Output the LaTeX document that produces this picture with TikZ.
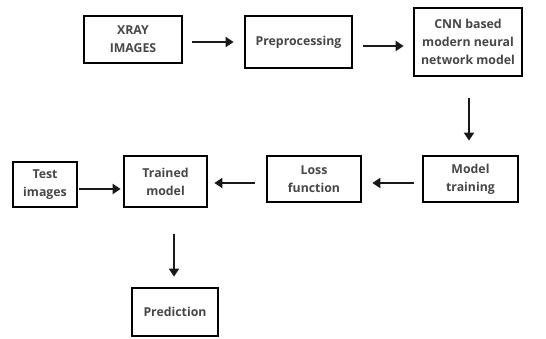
\documentclass[tikz,border=0pt]{standalone}
\usepackage{fontspec}
\setmainfont{Open Sans}
\usetikzlibrary{arrows.meta}
\begin{document}
\begin{tikzpicture}[x=1pt,y=-1pt,
  box/.style={draw=black, line width=2.8pt, fill=white, align=center,
    font=\bfseries\fontsize{12.3}{18}\selectfont, text=black!72, inner sep=0pt},
  arr/.style={line width=2.4pt, -{Triangle[length=8pt,width=10pt]}, black!90}]
\useasboundingbox (0,0) rectangle (546,338);
\node[box, minimum width=98pt, minimum height=47pt] (xray) at (133,39.5) {XRAY\\IMAGES};
\node[box, minimum width=107pt, minimum height=52pt] (pre) at (298.5,42) {Preprocessing};
\node[box, minimum width=108pt, minimum height=68pt] (cnn) at (468,42) {CNN based\\modern neural\\network model};
\node[box, minimum width=95pt, minimum height=46pt] (train) at (470.5,179) {Model\\training};
\node[box, minimum width=94pt, minimum height=46pt] (loss) at (314,179) {Loss\\function};
\node[box, minimum width=83pt, minimum height=51pt] (trained) at (165.5,181.5) {Trained\\model};
\node[box, minimum width=64pt, minimum height=45pt] (test) at (45,184.5) {Test\\images};
\node[box, minimum width=86pt, minimum height=48pt] (pred) at (175,312) {Prediction};
\draw[arr, shorten <=9pt, shorten >=10pt] (xray.east |- pre.west) -- (pre.west);
\draw[arr, shorten <=10pt, shorten >=9pt] ([yshift=-4pt]pre.east) -- ([yshift=-4pt]pre.east -| cnn.west);
\draw[arr, shorten <=21pt, shorten >=14pt] (cnn.south -| 469,0) -- (train.north -| 469,0);
\draw[arr, shorten <=8pt, shorten >=10pt] ([yshift=-4pt]train.west) -- ([yshift=-4pt]loss.east);
\draw[arr, shorten <=11pt, shorten >=6pt] ([yshift=-1.5pt]trained.east -| loss.west) -- ([yshift=-1.5pt]trained.east);
\draw[arr, shorten <=1pt, shorten >=2pt] ([yshift=-4.5pt]test.east) -- ([yshift=-4.5pt]test.east -| trained.west);
\draw[arr, shorten <=26pt, shorten >=10pt] (trained.south -| 174,0) -- (pred.north -| 174,0);
\end{tikzpicture}
\end{document}
